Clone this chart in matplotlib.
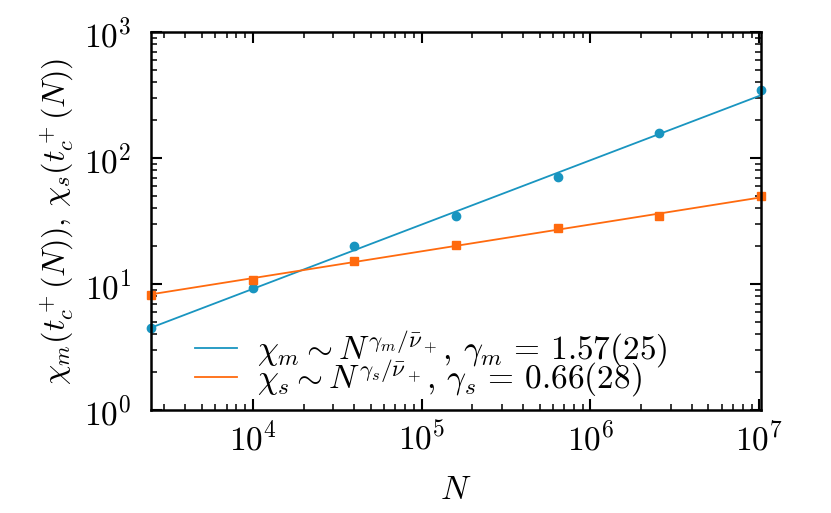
import matplotlib
matplotlib.use("Agg")
import matplotlib.pyplot as plt

# data
N = [2500, 10000, 40000, 160000, 640000, 2560000, 10240000]
chi_m = [4.49, 9.35, 20.0, 34.4, 70.2, 158.8, 345.0]
chi_s = [8.13, 10.7, 15.25, 20.5, 27.6, 34.8, 49.6]

# power-law fits, given by their end points
fit_N = [2500, 10240000]
fit_m = [4.5, 315.0]
fit_s = [8.28, 48.7]

label_m = r'$\chi_m \sim N^{\gamma_m/\bar{\nu}_+}$, $\gamma_m\,=\,1.57(25)$'
label_s = r'$\chi_s \sim N^{\gamma_s/\bar{\nu}_+}$, $\gamma_s\,=\,0.66(28)$'

blue = '#1995c0'
orange = '#ff6a0e'

plt.rcParams['font.family'] = 'serif'
plt.rcParams['font.serif'] = ['cmr10']
plt.rcParams['mathtext.fontset'] = 'cm'
plt.rcParams['axes.formatter.use_mathtext'] = True
plt.rcParams['axes.unicode_minus'] = False

fig = plt.figure(figsize=(8.31, 5.13), dpi=100)
ax = fig.add_axes([0.1817, 0.2008, 0.7341, 0.7368])

ax.plot(fit_N, fit_m, color=blue, lw=1.3, label=label_m)
ax.plot(fit_N, fit_s, color=orange, lw=1.3, label=label_s)
ax.plot(N, chi_m, 'o', color=blue, ms=6, clip_on=False)
ax.plot(N, chi_s, 's', color=orange, ms=5.5, clip_on=False)

ax.set_xscale('log')
ax.set_yscale('log')
ax.set_xlim(2500, 10240000)
ax.set_ylim(1, 1000)

ax.set_xlabel(r'$N$', fontsize=24, labelpad=14)
ax.set_ylabel(r'$\chi_m(t_c^+(N))$, $\chi_s(t_c^+(N))$', fontsize=23, labelpad=6)

for s in ax.spines.values():
  s.set_linewidth(1.8)
ax.tick_params(which='both', direction='in', top=True, right=True, labelsize=24)
ax.tick_params(which='major', length=8, width=1.5)
ax.tick_params(which='minor', length=4.3, width=1.1)
ax.tick_params(axis='x', which='major', pad=8)
ax.tick_params(axis='y', which='major', pad=14)

ax.legend(loc='lower left', bbox_to_anchor=(0.04, -0.025), frameon=False, fontsize=24,
          handlelength=1.25, handletextpad=0.6, labelspacing=-0.4, borderaxespad=0.2)

fig.savefig('out.png', dpi=100)
